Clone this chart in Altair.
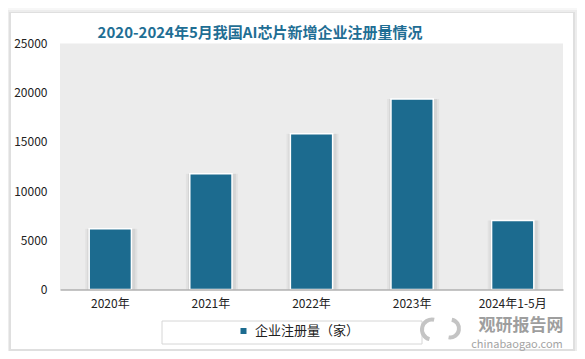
import altair as alt
import pandas as pd

# ---- data ----
categories = ["2020年", "2021年", "2022年", "2023年", "2024年1-5月"]
values = [6170, 11760, 15830, 19350, 7020]
series_name = "企业注册量（家）"
y_ticks = [0, 5000, 10000, 15000, 20000, 25000]
title_text = "2020-2024年5月我国AI芯片新增企业注册量情况"

W, H = 503, 246
FONT = "Noto Sans CJK SC"
BAR = "#1C6B8F"

df = pd.DataFrame({"cat": categories, "val": values, "series": [series_name] * len(categories)})
one = pd.DataFrame({"a": [0]})

# card shadow + card
shadows = []
for k, op in [(6, 0.03), (4, 0.04), (2, 0.06)]:
    shadows.append(
        alt.Chart(one).mark_rect(color="#000000", opacity=op).encode(
            x=alt.value(-49 - k), x2=alt.value(513 + k),
            y=alt.value(-30.5 - k + 1), y2=alt.value(305.5 + k + 1),
        )
    )
card = alt.Chart(one).mark_rect(color="#FFFFFF").encode(
    x=alt.value(-49), x2=alt.value(513), y=alt.value(-30.5), y2=alt.value(305.5)
)
hatch = alt.Chart(one).mark_rect(color="#ECECEC").encode(
    x=alt.value(0), x2=alt.value(W), y=alt.value(0), y2=alt.value(H)
)

xenc = alt.X(
    "cat:N", sort=categories, title=None,
    scale=alt.Scale(paddingInner=0.58, paddingOuter=0.29),
    axis=alt.Axis(labelAngle=0, ticks=False, domainColor="#8A8A8A", domainWidth=1.2, zindex=1,
                  labelFont=FONT, labelFontSize=12, labelColor="#222222", labelPadding=9),
)
yenc = alt.Y(
    "val:Q", title=None,
    scale=alt.Scale(domain=[0, 25000]),
    axis=alt.Axis(values=y_ticks, format="d", grid=False, ticks=False, domain=False, zindex=1,
                  labelFont=FONT, labelFontSize=12, labelColor="#222222", labelPadding=13),
)

shadow1 = alt.Chart(df).mark_bar(color="#000000", opacity=0.04, size=52, xOffset=1).encode(x=xenc, y=yenc)
shadow2 = alt.Chart(df).mark_bar(color="#000000", opacity=0.06, size=48, xOffset=1).encode(x=xenc, y=yenc)

bars = alt.Chart(df).mark_bar(stroke="#FFFFFF", strokeWidth=1.5).encode(
    x=xenc, y=yenc,
    color=alt.Color(
        "series:N", scale=alt.Scale(range=[BAR]),
        legend=alt.Legend(orient="none", legendX=177, legendY=281, title=None,
                          symbolType="square", symbolSize=36, symbolStrokeWidth=0,
                          labelFont=FONT, labelFontSize=13, labelColor="#222222",
                          padding=0, labelOffset=5),
    ),
)

legend_box = alt.Chart(one).mark_rect(fill="#FFFFFF", fillOpacity=0, stroke="#D6D6D6", strokeWidth=1).encode(
    x=alt.value(102), x2=alt.value(362), y=alt.value(277.5), y2=alt.value(300.5)
)

title = alt.Chart(one).mark_text(
    text=title_text, font=FONT, fontSize=15, fontWeight="bold", color="#1F6E94", align="center", baseline="middle"
).encode(x=alt.value(200), y=alt.value(-10.5))

# watermark logo (swirl) and text
logo1 = alt.Chart(one).mark_arc(color="#C4C4C4", radius=12, radius2=8, theta=3.4, theta2=6.5).encode(
    x=alt.value(372), y=alt.value(286)
)
logo2 = alt.Chart(one).mark_arc(color="#C4C4C4", radius=11, radius2=7, theta=0.2, theta2=3.3).encode(
    x=alt.value(390), y=alt.value(285)
)
wm1 = alt.Chart(one).mark_text(
    text="观研报告网", font=FONT, fontSize=17, fontWeight="bold", color="#8E8E8E", align="center", baseline="middle", opacity=0.85
).encode(x=alt.value(461), y=alt.value(282.5))
wm2 = alt.Chart(one).mark_text(
    text="chinabaogao.com", font=FONT, fontSize=11, color="#9A9A9A", align="center", baseline="middle", opacity=0.9
).encode(x=alt.value(457), y=alt.value(301.5))

chart = alt.layer(
    *shadows, card, hatch, shadow1, shadow2, bars, legend_box, title, logo1, logo2, wm1, wm2
).properties(
    width=W, height=H,
    autosize=alt.AutoSizeParams(type="none"),
    padding={"left": 52, "top": 35.5, "right": 14, "bottom": 61},
    background="#FFFFFF",
).configure_view(stroke=None)

chart.save("out.html", embed_options={"renderer": "svg", "actions": False})
